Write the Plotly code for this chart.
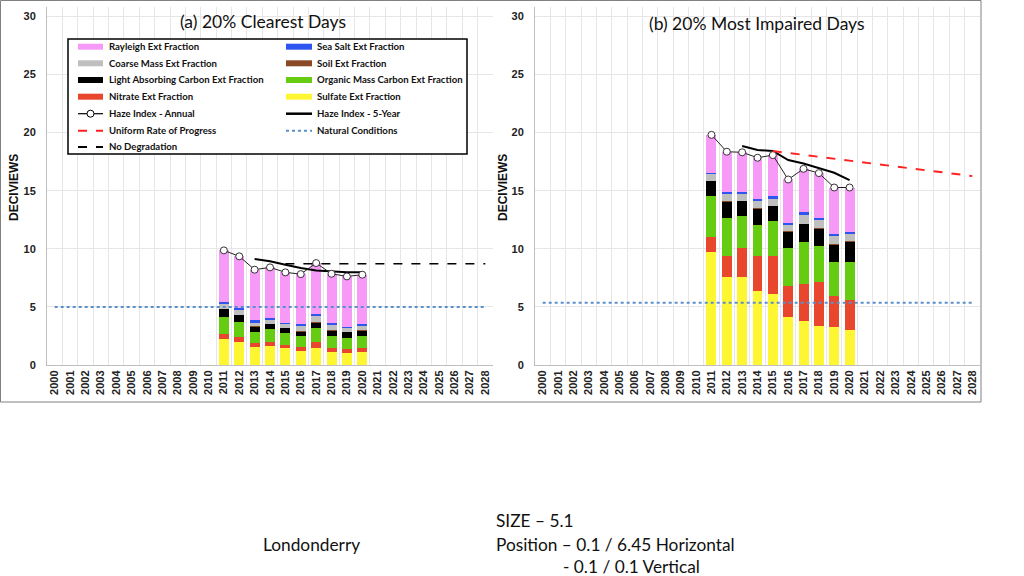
import plotly.graph_objects as go

years = [str(y) for y in range(2000, 2029)]
data_years = [str(y) for y in range(2011, 2021)]
fy_years = [str(y) for y in range(2013, 2021)]

# ---- (a) 20% Clearest Days ----
clr_sulfate = [2.27, 1.96, 1.52, 1.64, 1.47, 1.24, 1.50, 1.15, 1.01, 1.09]
clr_nitrate = [0.40, 0.43, 0.38, 0.34, 0.28, 0.34, 0.51, 0.35, 0.37, 0.38]
clr_omc = [1.50, 1.32, 0.95, 1.10, 0.98, 0.89, 1.15, 1.00, 0.92, 1.03]
clr_lac = [0.63, 0.55, 0.46, 0.46, 0.43, 0.41, 0.49, 0.46, 0.52, 0.46]
clr_soil = [0.03, 0.03, 0.03, 0.03, 0.03, 0.03, 0.03, 0.03, 0.03, 0.03]
clr_coarse = [0.43, 0.46, 0.31, 0.31, 0.35, 0.48, 0.55, 0.46, 0.31, 0.35]
clr_seasalt = [0.15, 0.14, 0.18, 0.15, 0.11, 0.15, 0.14, 0.15, 0.15, 0.17]
clr_rayleigh = [4.45, 4.46, 4.37, 4.37, 4.32, 4.28, 4.40, 4.25, 4.31, 4.26]
clr_annual = [9.86, 9.35, 8.20, 8.40, 7.97, 7.82, 8.77, 7.85, 7.62, 7.77]
clr_5yr = [9.12, 8.92, 8.63, 8.34, 8.14, 8.05, 7.97, 7.97]
clr_nodeg_x = ["2015", "2028"]
clr_nodeg_y = [8.71, 8.71]
clr_natural_x = ["2000", "2028"]
clr_natural_y = [4.98, 4.98]

# ---- (b) 20% Most Impaired Days ----
imp_sulfate = [9.75, 7.54, 7.54, 6.36, 6.15, 4.14, 3.80, 3.36, 3.28, 3.05]
imp_nitrate = [1.24, 1.86, 2.53, 2.99, 3.20, 2.68, 3.19, 3.80, 2.62, 2.56]
imp_omc = [3.53, 3.28, 2.79, 2.73, 3.02, 3.22, 3.59, 3.11, 2.99, 3.25]
imp_lac = [1.27, 1.35, 1.23, 1.38, 1.29, 1.41, 1.53, 1.46, 1.46, 1.72]
imp_soil = [0.05, 0.05, 0.05, 0.05, 0.05, 0.05, 0.05, 0.08, 0.05, 0.05]
imp_coarse = [0.55, 0.64, 0.58, 0.58, 0.61, 0.55, 0.78, 0.70, 0.73, 0.64]
imp_seasalt = [0.15, 0.15, 0.15, 0.15, 0.18, 0.14, 0.23, 0.17, 0.14, 0.15]
imp_rayleigh = [3.25, 3.48, 3.43, 3.59, 3.56, 3.77, 3.71, 3.83, 4.00, 3.85]
imp_annual = [19.80, 18.35, 18.30, 17.83, 18.06, 15.96, 16.88, 16.51, 15.27, 15.27]
imp_5yr = [18.84, 18.49, 18.41, 17.63, 17.34, 16.97, 16.54, 15.90]
imp_urp_x = ["2015", "2028"]
imp_urp_y = [18.41, 16.25]
imp_natural_x = ["2000", "2028"]
imp_natural_y = [5.35, 5.35]

components = ["Sulfate", "Nitrate", "Organic Mass Carbon", "Light Absorbing Carbon",
              "Soil", "Coarse Mass", "Sea Salt", "Rayleigh"]
comp_colors = ["#FFF633", "#E8472E", "#66CC11", "#000000",
               "#8B4A26", "#BFBFBF", "#2E55F0", "#F79AF7"]

W, H = 1024, 576


def px(x):
    return x / W


def py(y):
    return 1 - y / H


fig = go.Figure()

panels = [
    ("x", "y", [clr_sulfate, clr_nitrate, clr_omc, clr_lac, clr_soil, clr_coarse, clr_seasalt, clr_rayleigh],
     clr_annual, clr_5yr, clr_natural_x, clr_natural_y),
    ("x2", "y2", [imp_sulfate, imp_nitrate, imp_omc, imp_lac, imp_soil, imp_coarse, imp_seasalt, imp_rayleigh],
     imp_annual, imp_5yr, imp_natural_x, imp_natural_y),
]

for xa, ya, comps, annual, fy, natx, naty in panels:
    for name, vals, col in zip(components, comps, comp_colors):
        fig.add_trace(go.Bar(x=data_years, y=vals, name=name, marker=dict(color=col, line=dict(width=0)),
                             xaxis=xa, yaxis=ya, showlegend=False))
    fig.add_trace(go.Scatter(x=natx, y=naty, mode="lines", line=dict(color="#5B8FCB", width=2, dash="dot"),
                             xaxis=xa, yaxis=ya, showlegend=False))
    fig.add_trace(go.Scatter(x=fy_years, y=fy, mode="lines", line=dict(color="black", width=2),
                             xaxis=xa, yaxis=ya, showlegend=False))
    fig.add_trace(go.Scatter(x=data_years, y=annual, mode="lines+markers",
                             line=dict(color="#222222", width=1),
                             marker=dict(symbol="circle", size=7, color="white", line=dict(color="#333333", width=1)),
                             xaxis=xa, yaxis=ya, showlegend=False))

fig.add_trace(go.Scatter(x=clr_nodeg_x, y=clr_nodeg_y, mode="lines",
                         line=dict(color="black", width=1.6, dash="dash"), xaxis="x", yaxis="y", showlegend=False))
fig.add_trace(go.Scatter(x=imp_urp_x, y=imp_urp_y, mode="lines",
                         line=dict(color="#FF2020", width=2, dash="dash"), xaxis="x2", yaxis="y2", showlegend=False))

xcommon = dict(type="category", categoryorder="array", categoryarray=years, tickvals=years,
               tickangle=-90, tickson="boundaries", showgrid=True, gridcolor="#E6E6E6",
               showline=True, linecolor="#BFBFBF", ticks="", automargin=False,
               tickfont=dict(family="Arial, Liberation Sans", size=11, color="#222222", weight="bold"),
               range=[-0.5, 28.5], fixedrange=True)
ycommon = dict(range=[0, 30.8], tickvals=[0, 5, 10, 15, 20, 25, 30], showgrid=True, gridcolor="#E6E6E6",
               showline=True, linecolor="#BFBFBF", zeroline=False, ticks="", ticklabelstandoff=8,
               automargin=False, fixedrange=True,
               tickfont=dict(family="Arial, Liberation Sans", size=11, color="#222222", weight="bold"))

fig.update_layout(
    width=W, height=H, margin=dict(l=0, r=0, t=0, b=0, autoexpand=False),
    paper_bgcolor="white", plot_bgcolor="white",
    barmode="stack", bargap=0.35, showlegend=False, hovermode=False,
    xaxis=dict(domain=[px(47), px(493)], anchor="y", **xcommon),
    yaxis=dict(domain=[py(365), py(7)], anchor="x", **ycommon),
    xaxis2=dict(domain=[px(535), px(980)], anchor="y2", **xcommon),
    yaxis2=dict(domain=[py(365), py(7)], anchor="x2", **ycommon),
)

shapes = []
ann = []

# outer frame
shapes.append(dict(type="rect", xref="paper", yref="paper", x0=px(0.5), x1=px(981), y0=py(402), y1=py(0.5),
                   line=dict(color="#808080", width=1), layer="below"))

title_font = dict(family="Lato, Open Sans", size=17.5, color="#111111")
ann.append(dict(text="(a) 20% Clearest Days", x=px(263), y=py(21), xref="paper", yref="paper",
                showarrow=False, font=title_font, xanchor="center", yanchor="middle"))
ann.append(dict(text="(b) 20% Most Impaired Days", x=px(757), y=py(23), xref="paper", yref="paper",
                showarrow=False, font=title_font, xanchor="center", yanchor="middle"))

yt_font = dict(family="Arial, Liberation Sans", size=12, color="#111111", weight="bold")
for xx in (14, 503):
    ann.append(dict(text="DECIVIEWS", x=px(xx), y=py(188), xref="paper", yref="paper", textangle=-90,
                    showarrow=False, font=yt_font, xanchor="center", yanchor="middle"))

# legend (manual, inside panel a)
shapes.append(dict(type="rect", xref="paper", yref="paper", x0=px(68), x1=px(467), y0=py(154), y1=py(39),
                   line=dict(color="black", width=1.5), fillcolor="white", layer="above"))
leg_font = dict(family="Lato, Open Sans", size=9.6, color="#111111", weight="bold")
rows = [46.7, 63.3, 80.0, 96.7, 113.7, 130.7, 147.0]
left_items = [("Rayleigh Ext Fraction", "bar", "#F79AF7"),
              ("Coarse Mass Ext Fraction", "bar", "#BFBFBF"),
              ("Light Absorbing Carbon Ext Fraction", "bar", "#000000"),
              ("Nitrate Ext Fraction", "bar", "#E8472E"),
              ("Haze Index - Annual", "annual", None),
              ("Uniform Rate of Progress", "urp", None),
              ("No Degradation", "nodeg", None)]
right_items = [("Sea Salt Ext Fraction", "bar", "#2E55F0"),
               ("Soil Ext Fraction", "bar", "#8B4A26"),
               ("Organic Mass Carbon Ext Fraction", "bar", "#66CC11"),
               ("Sulfate Ext Fraction", "bar", "#FFF633"),
               ("Haze Index - 5-Year", "fy", None),
               ("Natural Conditions", "nat", None)]


def legend_item(x0, x1, tx, y, label, kind, color):
    if kind == "bar":
        shapes.append(dict(type="rect", xref="paper", yref="paper", x0=px(x0), x1=px(x1), y0=py(y + 3),
                           y1=py(y - 3), line=dict(width=0), fillcolor=color, layer="above"))
    elif kind == "annual":
        shapes.append(dict(type="line", xref="paper", yref="paper", x0=px(x0), x1=px(x1), y0=py(y), y1=py(y),
                           line=dict(color="black", width=1.2), layer="above"))
        cx = (x0 + x1) / 2
        shapes.append(dict(type="circle", xref="paper", yref="paper", x0=px(cx - 3.5), x1=px(cx + 3.5),
                           y0=py(y + 3.5), y1=py(y - 3.5), line=dict(color="black", width=1),
                           fillcolor="white", layer="above"))
    elif kind == "fy":
        shapes.append(dict(type="line", xref="paper", yref="paper", x0=px(x0), x1=px(x1), y0=py(y), y1=py(y),
                           line=dict(color="black", width=2.5), layer="above"))
    elif kind == "urp":
        shapes.append(dict(type="line", xref="paper", yref="paper", x0=px(x0), x1=px(x1), y0=py(y), y1=py(y),
                           line=dict(color="#FF2020", width=2, dash="dash"), layer="above"))
    elif kind == "nodeg":
        shapes.append(dict(type="line", xref="paper", yref="paper", x0=px(x0), x1=px(x1), y0=py(y), y1=py(y),
                           line=dict(color="black", width=2, dash="dash"), layer="above"))
    elif kind == "nat":
        shapes.append(dict(type="line", xref="paper", yref="paper", x0=px(x0), x1=px(x1), y0=py(y), y1=py(y),
                           line=dict(color="#5B8FCB", width=2, dash="dot"), layer="above"))
    ann.append(dict(text=label, x=px(tx), y=py(y), xref="paper", yref="paper", showarrow=False,
                    font=leg_font, xanchor="left", yanchor="middle"))


for (label, kind, color), y in zip(left_items, rows):
    legend_item(78, 103, 107, y, label, kind, color)
for (label, kind, color), y in zip(right_items, rows):
    legend_item(286, 312, 315, y, label, kind, color)

# bottom notes
note_font = dict(family="Lato, Open Sans", size=17.3, color="#111111")
ann.append(dict(text="Londonderry", x=px(261), y=py(544), xref="paper", yref="paper", showarrow=False,
                font=note_font, xanchor="left", yanchor="middle"))
ann.append(dict(text="SIZE – 5.1", x=px(494), y=py(520), xref="paper", yref="paper", showarrow=False,
                font=note_font, xanchor="left", yanchor="middle"))
ann.append(dict(text="Position – 0.1 / 6.45 Horizontal", x=px(494), y=py(544), xref="paper", yref="paper",
                showarrow=False, font=note_font, xanchor="left", yanchor="middle"))
ann.append(dict(text="- 0.1 / 0.1 Vertical", x=px(561), y=py(566), xref="paper", yref="paper",
                showarrow=False, font=note_font, xanchor="left", yanchor="middle"))

fig.update_layout(shapes=shapes, annotations=ann)
fig.write_html("out.html", config={"displayModeBar": False, "staticPlot": True},
               post_script="document.body.style.margin='0';document.body.style.overflow='hidden';")
